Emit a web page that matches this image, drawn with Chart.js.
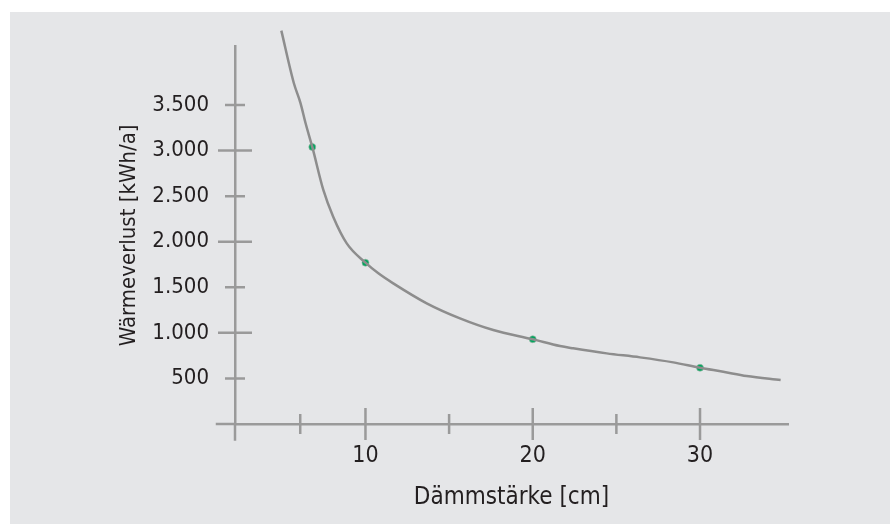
<!DOCTYPE html>
<html lang="de">
<head>
<meta charset="utf-8">
<title>Wärmeverlust und Dämmstärke</title>
<script src="https://cdn.jsdelivr.net/npm/chart.js@4.4.1/dist/chart.umd.min.js"></script>
<style>
  html, body { margin: 0; padding: 0; background: #ffffff; }
  #panel { position: absolute; left: 10px; top: 12px; width: 880px; height: 512px; background: #e5e6e8; }
  #wrap { position: absolute; left: 0; top: 0; width: 893px; height: 525px; }
</style>
</head>
<body>
<div id="panel"></div>
<div id="wrap"><canvas id="chart" width="893" height="525"></canvas></div>
<script>
// Kurve
const curveX = [4.97, 5.72, 6.12, 6.42, 6.82, 7.48, 8.07, 8.88, 10, 10.77, 11.66, 13.66, 15.65, 17.64, 20, 21.63, 22.42, 24.42, 26.41, 28.4, 30, 31.39, 32.79, 34.82];
const curveY = [4316, 3739, 3519, 3300, 3040, 2568, 2274, 1982, 1770, 1653, 1543, 1324, 1159, 1031, 930, 855, 830, 775, 731, 676, 617, 573, 526, 482];

// Messpunkte
const pointX = [6.82, 10, 20, 30];
const pointY = [3040, 1770, 930, 617];

// Achsenteilung
const xTickValues = [6.1, 10, 15, 20, 25, 30];
const xLabelValues = [10, 20, 30];
const yTickValues = [500, 1000, 1500, 2000, 2500, 3000, 3500];

const AXIS_COLOR = '#9a9a9a';
const TEXT_COLOR = '#231f20';
const FONT = "'DejaVu Sans Condensed', 'Liberation Sans', sans-serif";

const formatDe = (v) => String(v).replace(/\B(?=(\d{3})+(?!\d))/g, '.');

// Striche, die die Achse kreuzen, plus die kurzen Achsverlaengerungen
const crossTicks = {
  id: 'crossTicks',
  beforeDatasetsDraw(chart) {
    const { ctx, scales: { x, y } } = chart;
    const axisX = x.getPixelForValue(x.min);
    const axisY = y.getPixelForValue(y.min);
    ctx.save();
    ctx.strokeStyle = AXIS_COLOR;
    ctx.lineWidth = 2.5;
    ctx.beginPath();
    // verlaengerungen
    ctx.moveTo(x.getPixelForValue(1.05), axisY);
    ctx.lineTo(axisX, axisY);
    ctx.moveTo(axisX, axisY);
    ctx.lineTo(axisX, y.getPixelForValue(-185));
    yTickValues.forEach(v => {
      const py = y.getPixelForValue(v);
      const len = v % 1000 === 0 ? 17 : 10;
      ctx.moveTo(axisX - len, py);
      ctx.lineTo(axisX + len, py);
    });
    xTickValues.forEach(v => {
      const px = x.getPixelForValue(v);
      const len = v % 10 === 0 ? 16 : 10;
      ctx.moveTo(px, axisY - len);
      ctx.lineTo(px, axisY + len);
    });
    ctx.stroke();
    ctx.restore();
  }
};

const ctx = document.getElementById('chart').getContext('2d');
new Chart(ctx, {
  type: 'scatter',
  data: {
    datasets: [
      {
        label: 'Kurve',
        data: curveX.map((v, i) => ({ x: v, y: curveY[i] })),
        showLine: true,
        borderColor: '#8d8d8d',
        borderWidth: 2.5,
        pointRadius: 0,
        cubicInterpolationMode: 'monotone',
        clip: false,
      },
      {
        label: 'Messwerte',
        data: pointX.map((v, i) => ({ x: v, y: pointY[i] })),
        showLine: false,
        pointRadius: 3.5,
        pointBackgroundColor: '#00a55e',
        pointBorderColor: '#9fb3a6',
        pointBorderWidth: 0.6,
        clip: false,
      },
    ],
  },
  options: {
    responsive: false,
    animation: false,
    layout: { padding: { top: 46.7, right: 105, left: 0, bottom: 0 } },
    plugins: {
      legend: { display: false },
      tooltip: { enabled: false },
    },
    scales: {
      x: {
        type: 'linear',
        min: 2.2,
        max: 35.26,
        afterFit: (scale) => { scale.height = 101; },
        afterBuildTicks: (scale) => { scale.ticks = xTickValues.map(v => ({ value: v })); },
        border: { display: true, color: AXIS_COLOR, width: 2.5 },
        grid: { display: false, drawTicks: false },
        ticks: {
          padding: 18,
          color: TEXT_COLOR,
          font: { family: FONT, size: 23 },
          maxRotation: 0,
          callback: (v) => xLabelValues.includes(v) ? String(v) : '',
        },
        title: {
          display: true,
          text: 'Dämmstärke [cm]',
          color: TEXT_COLOR,
          font: { family: FONT, size: 24 },
          padding: { top: 0, bottom: 13 },
        },
      },
      y: {
        type: 'linear',
        min: 0,
        max: 4140,
        afterFit: (scale) => { scale.width = 235; },
        afterBuildTicks: (scale) => { scale.ticks = yTickValues.map(v => ({ value: v })); },
        border: { display: true, color: AXIS_COLOR, width: 2.5 },
        grid: { display: false, drawTicks: false },
        ticks: {
          padding: 26,
          color: TEXT_COLOR,
          font: { family: FONT, size: 22 },
          callback: (v) => formatDe(v),
        },
        title: {
          display: true,
          text: 'Wärmeverlust [kWh/a]',
          color: TEXT_COLOR,
          font: { family: FONT, size: 22 },
          padding: { top: 116, bottom: 0 },
        },
      },
    },
  },
  plugins: [crossTicks],
});
</script>
</body>
</html>
